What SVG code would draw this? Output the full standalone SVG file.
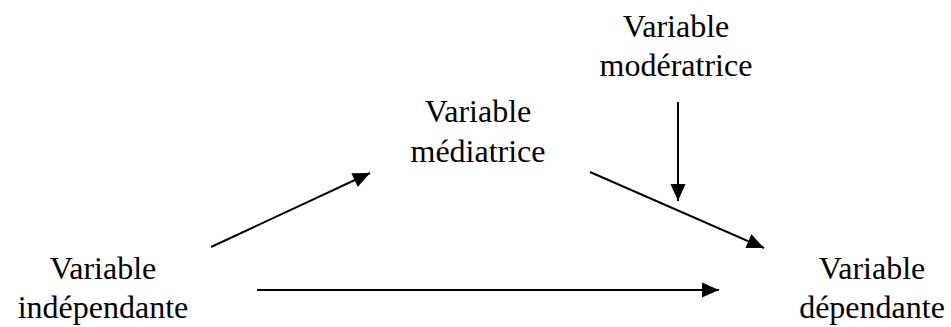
<svg xmlns="http://www.w3.org/2000/svg" width="951" height="327" viewBox="0 0 951 327">
<style>
.t{font-family:"Liberation Serif","Times New Roman",serif;font-size:32px;fill:#000;text-anchor:middle}
.c{stroke:#000;stroke-width:2;fill:none;marker-end:url(#ah)}
</style>
<defs>
<marker id="ah" markerUnits="userSpaceOnUse" markerWidth="17" markerHeight="15" refX="17" refY="7.5" orient="auto" overflow="visible">
<path d="M0,0 L17,7.5 L0,15 z" fill="#000"/>
</marker>
</defs>
<rect width="951" height="327" fill="#fff"/>
<g id="connectors">
<line class="c" x1="211" y1="247" x2="370" y2="173"/>
<line class="c" x1="257" y1="290" x2="719" y2="290"/>
<line class="c" x1="590" y1="172" x2="764" y2="248"/>
<line class="c" x1="678" y1="102" x2="678" y2="201"/>
</g>
<g id="independante">
<text class="t" x="103" y="279">Variable</text>
<text class="t" x="103" y="318">indépendante</text>
</g>
<g id="mediatrice">
<text class="t" x="478" y="122">Variable</text>
<text class="t" x="478" y="162">médiatrice</text>
</g>
<g id="moderatrice">
<text class="t" x="676" y="37">Variable</text>
<text class="t" x="676" y="76">modératrice</text>
</g>
<g id="dependante">
<text class="t" x="872" y="279">Variable</text>
<text class="t" x="872" y="318">dépendante</text>
</g>
</svg>
